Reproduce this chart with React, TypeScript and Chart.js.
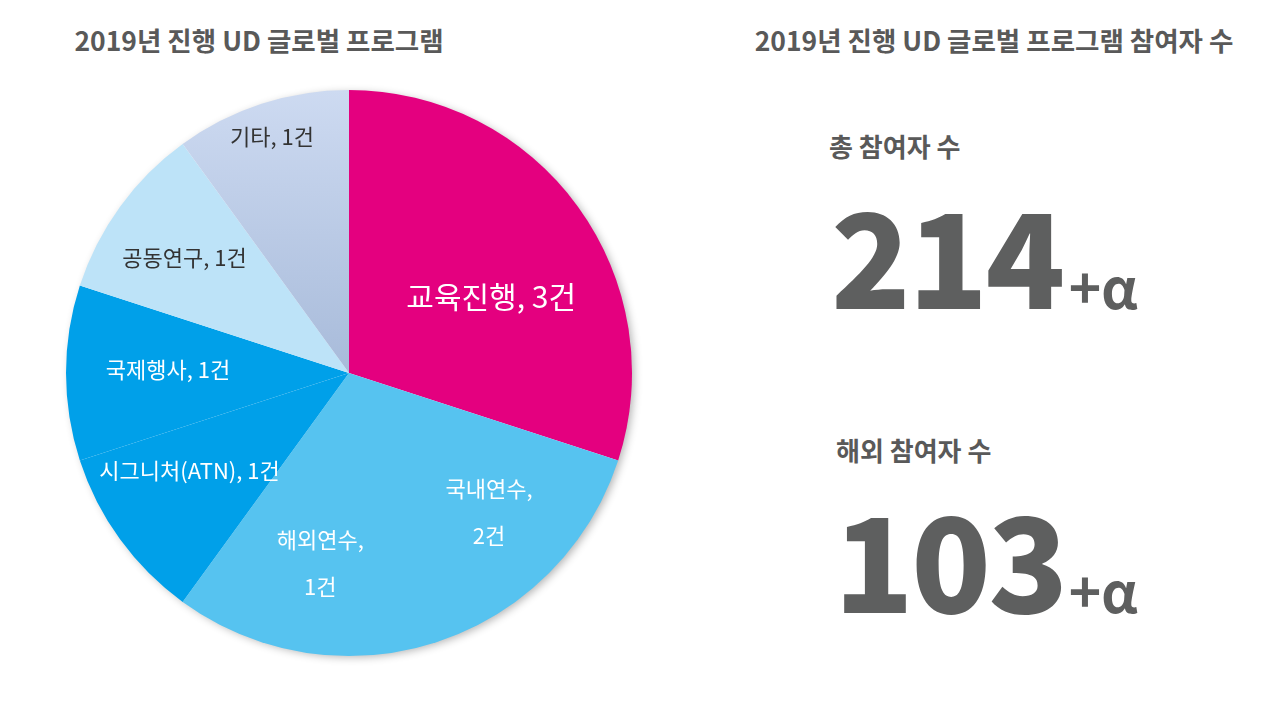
import React, { useEffect, useRef } from 'react';
import { Chart, registerables } from 'chart.js';

Chart.register(...registerables);

// ---- data ----
const titles = ['2019년 진행 UD 글로벌 프로그램', '2019년 진행 UD 글로벌 프로그램 참여자 수'];
const categories = ['교육진행', '국내연수', '해외연수', '시그니처(ATN)', '국제행사', '공동연구', '기타'];
const counts = [3, 2, 1, 1, 1, 1, 1];
const countUnit = '건';
const statLabels = ['총 참여자 수', '해외 참여자 수'];
const statValues = [214, 103];
const statSuffix = '+α';

// ---- styles ----
const sliceColors = ['#E4007F', '#56C3F0', '#56C3F0', '#00A0E9', '#00A0E9', '#BDE3F8', 'gradient'];
const gradientStops = ['#CDDAF1', '#A8BBDA'];
const labelColors = ['#ffffff', '#ffffff', '#ffffff', '#ffffff', '#ffffff', '#333333', '#333333'];
// radial fraction of radius, angle tweak in degrees, font size, wrap into two lines
const labelPlacement = [
  { f: 0.57, d: 7.8, size: 30, wrap: false },
  { f: 0.70, d: -9, size: 22, wrap: true },
  { f: 0.68, d: -9.4, size: 22, wrap: true },
  { f: 0.66, d: 4.6, size: 22, wrap: false },
  { f: 0.64, d: 1, size: 22, wrap: false },
  { f: 0.71, d: -1, size: 22, wrap: false },
  { f: 0.88, d: 0, size: 22, wrap: false },
];
const statLayout = [
  { left: 829, top: 131, numLeft: 831, sufGap: 6 },
  { left: 836, top: 435, numLeft: 834, sufGap: 3 },
];
const FONT = "'Noto Sans CJK KR', 'Noto Sans', sans-serif";
const TEXT_GRAY = '#595959';
const NUM_GRAY = '#5E5F5F';

const shadowPlugin = {
  id: 'pieShadow',
  beforeDatasetsDraw(chart: any) {
    const meta = chart.getDatasetMeta(0);
    const arc = meta.data[0];
    if (!arc) return;
    const { x, y, outerRadius } = arc.getProps(['x', 'y', 'outerRadius'], true);
    const ctx = chart.ctx;
    ctx.save();
    ctx.shadowColor = 'rgba(0,0,0,0.3)';
    ctx.shadowBlur = 8;
    ctx.shadowOffsetX = 3;
    ctx.shadowOffsetY = 2;
    ctx.fillStyle = '#ffffff';
    ctx.beginPath();
    ctx.arc(x, y, outerRadius - 1, 0, Math.PI * 2);
    ctx.fill();
    ctx.restore();
  },
};

const labelPlugin = {
  id: 'sliceLabels',
  afterDatasetsDraw(chart: any) {
    const meta = chart.getDatasetMeta(0);
    const ctx = chart.ctx;
    ctx.save();
    ctx.textAlign = 'center';
    ctx.textBaseline = 'middle';
    meta.data.forEach((arc: any, i: number) => {
      const { x, y, startAngle, endAngle, outerRadius } = arc.getProps(
        ['x', 'y', 'startAngle', 'endAngle', 'outerRadius'],
        true
      );
      const p = labelPlacement[i];
      const mid = (startAngle + endAngle) / 2 + (p.d * Math.PI) / 180;
      const px = x + Math.cos(mid) * outerRadius * p.f;
      const py = y + Math.sin(mid) * outerRadius * p.f;
      ctx.fillStyle = labelColors[i];
      ctx.font = `400 ${p.size}px ${FONT}`;
      const name = chart.data.labels[i];
      const val = chart.data.datasets[0].data[i];
      if (p.wrap) {
        ctx.fillText(`${name},`, px, py - 24);
        ctx.fillText(`${val}${countUnit}`, px, py + 23);
      } else {
        ctx.fillText(`${name}, ${val}${countUnit}`, px, py);
      }
    });
    ctx.restore();
  },
};

function PieChart() {
  const ref = useRef<HTMLCanvasElement | null>(null);
  useEffect(() => {
    if (!ref.current) return;
    const chart = new Chart(ref.current, {
      type: 'pie',
      data: {
        labels: categories,
        datasets: [
          {
            data: counts,
            backgroundColor: (c: any) => {
              const col = sliceColors[c.dataIndex];
              if (col !== 'gradient') return col;
              const ch = c.chart;
              const area = ch.chartArea;
              if (!area) return gradientStops[0];
              const cy = (area.top + area.bottom) / 2;
              const g = ch.ctx.createLinearGradient(0, area.top, 0, cy);
              g.addColorStop(0, gradientStops[0]);
              g.addColorStop(1, gradientStops[1]);
              return g;
            },
            borderWidth: 0,
            hoverOffset: 0,
            offset: 0,
          },
        ],
      },
      options: {
        responsive: false,
        animation: false,
        devicePixelRatio: 1,
        layout: { padding: 17 },
        plugins: {
          legend: { display: false },
          tooltip: { enabled: false },
        },
        events: [],
      },
      plugins: [shadowPlugin, labelPlugin],
    } as any);
    return () => chart.destroy();
  }, []);
  return (
    <canvas
      ref={ref}
      width={600}
      height={600}
      style={{ position: 'absolute', left: 49, top: 73, width: 600, height: 600 }}
    />
  );
}

function Stat({ label, value, idx }: { label: string; value: number; idx: number }) {
  const lay = statLayout[idx];
  return (
    <>
      <div
        style={{
          position: 'absolute',
          left: lay.left,
          top: lay.top,
          fontFamily: FONT,
          fontWeight: 700,
          fontSize: 26,
          lineHeight: '30px',
          color: TEXT_GRAY,
          whiteSpace: 'nowrap',
        }}
      >
        {label}
      </div>
      <div
        style={{
          position: 'absolute',
          left: lay.numLeft,
          top: lay.top + 56,
          display: 'flex',
          alignItems: 'baseline',
          fontFamily: FONT,
          color: NUM_GRAY,
          whiteSpace: 'nowrap',
        }}
      >
        <span style={{ fontSize: 131, fontWeight: 900, lineHeight: '131px', letterSpacing: -2.5 }}>{value}</span>
        <span style={{ fontSize: 55, fontWeight: 700, lineHeight: '55px', marginLeft: lay.sufGap }}>{statSuffix}</span>
      </div>
    </>
  );
}

const titleStyle: React.CSSProperties = {
  position: 'absolute',
  top: 25,
  width: 600,
  textAlign: 'center',
  fontFamily: FONT,
  fontWeight: 700,
  fontSize: 26.5,
  lineHeight: '30px',
  color: TEXT_GRAY,
  whiteSpace: 'nowrap',
};

export default function App() {
  return (
    <div
      style={{
        position: 'fixed',
        left: 0,
        top: 0,
        width: 1280,
        height: 728,
        background: '#ffffff',
        overflow: 'hidden',
      }}
    >
      <div style={{ ...titleStyle, left: 259 - 300 }}>{titles[0]}</div>
      <div style={{ ...titleStyle, left: 994 - 300 }}>{titles[1]}</div>
      <PieChart />
      <Stat label={statLabels[0]} value={statValues[0]} idx={0} />
      <Stat label={statLabels[1]} value={statValues[1]} idx={1} />
    </div>
  );
}
